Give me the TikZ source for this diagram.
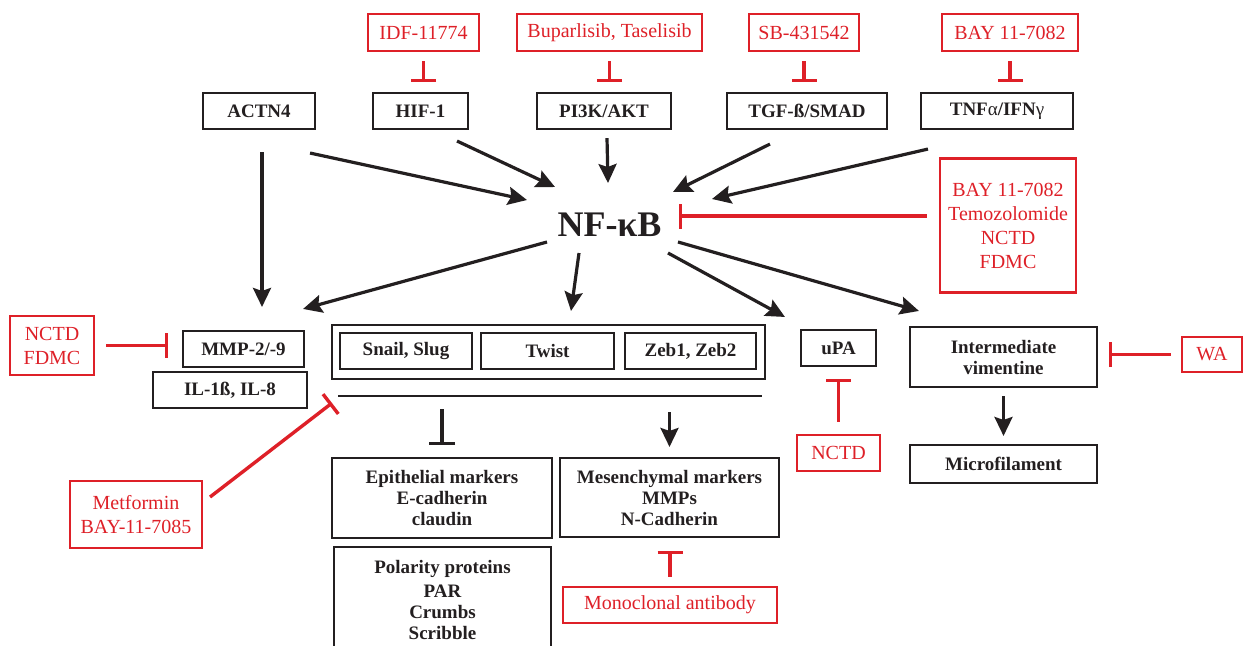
\documentclass[tikz,border=0pt]{standalone}
\usepackage{fontspec}
\setmainfont{Liberation Serif}
\usetikzlibrary{calc}
\usetikzlibrary{arrows.meta}
\definecolor{drugred}{RGB}{222,32,40}
\definecolor{boxgray}{RGB}{35,31,32}
\tikzstyle{blackbox}=[draw=boxgray,line width=2.1pt,inner sep=0pt,align=center,text=boxgray,font=\bfseries\fontsize{19}{21}\selectfont]
\tikzstyle{redbox}=[draw=drugred,line width=2.1pt,inner sep=0pt,align=center,text=drugred,font=\fontsize{20}{24}\selectfont]
\tikzstyle{activate}=[-{Stealth[length=19pt,width=18pt,inset=3pt]},line width=3.2pt,draw=boxgray]
\tikzstyle{inhibit}=[-{Bar[width=25pt]},line width=3.4pt,draw=drugred]
\tikzstyle{blockline}=[-{Bar[width=26pt]},line width=3.2pt,draw=boxgray]

\begin{document}
\begin{tikzpicture}[x=1pt,y=-1pt]
  \useasboundingbox (0,0) rectangle (1244,645);
  % drugs on top
  \node[redbox,minimum width=111,minimum height=37] (idf) at (423.5,32.5) {IDF-11774};
  \node[redbox,minimum width=185,minimum height=37] (bup) at (609.5,32.5) {Buparlisib, Taselisib};
  \node[redbox,minimum width=110,minimum height=37] (sbx) at (804,32.5) {SB-431542};
  \node[redbox,minimum width=136,minimum height=37] (bay) at (1010,32.5) {BAY 11-7082};
  % upstream pathways
  \node[blackbox,minimum width=112,minimum height=36] (actn) at (259,111) {ACTN4};
  \node[blackbox,minimum width=95,minimum height=36] (hif) at (420.5,111) {HIF-1};
  \node[blackbox,minimum width=134,minimum height=36] (pik) at (604,111) {PI3K/AKT};
  \node[blackbox,minimum width=160,minimum height=36] (tgf) at (807,111) {TGF-ß/SMAD};
  \node[blackbox,minimum width=152,minimum height=36] (tnf) at (997,111) {TNF{\mdseries α}/IFN{\mdseries γ}};
  \foreach \drug/\target in {idf/hif,bup/pik,sbx/tgf,bay/tnf} {
    \draw[inhibit,shorten <=9pt,shorten >=10pt] (\drug.south) -- (\drug.south |- \target.north);
  }

  \node[text=boxgray,inner sep=0pt,font=\bfseries\fontsize{36}{40}\selectfont] (nfkb) at (609.5,225) {NF-κB};
  \node[redbox,minimum width=136,minimum height=134] (baym) at (1008,225.5) {BAY 11-7082\\Temozolomide\\NCTD\\FDMC};

  \draw[activate] ($(actn.south east)+(-6,23)$) -- ($(nfkb)+(-82.5,-25)$);
  \draw[activate] ($(hif.south east)+(-12,11)$) -- ($(nfkb)+(-54.5,-38)$);
  \draw[activate] ($(pik.south)+(3,8)$) -- ($(nfkb)+(-1.5,-42)$);
  \draw[activate] ($(tgf.south)+(-37,14)$) -- ($(nfkb)+(63.5,-33)$);
  \draw[activate] ($(tnf.south west)+(8,19)$) -- ($(nfkb)+(102.5,-26)$);
  \draw[inhibit] ($(baym.west)+(-12,-9.5)$) -- ($(nfkb)+(69.5,-9)$);

  % middle row
  \node[redbox,minimum width=84,minimum height=59] (nctdl) at (52,345.5) {NCTD\\FDMC};
  \node[blackbox,minimum width=121,minimum height=36] (mmp) at (243.5,349) {MMP-2/-9};
  \node[blackbox,minimum width=154,minimum height=36] (il) at (230,390) {IL-1ß, IL-8};
  \node[blackbox,minimum width=433,minimum height=54] (emt) at (548.5,352) {};
  \node[blackbox,minimum width=132,minimum height=36] (snail) at (406,351) {Snail, Slug};
  \node[blackbox,minimum width=133,minimum height=36] (twist) at (547.5,351) {Twist};
  \node[blackbox,minimum width=131,minimum height=36] (zeb) at (690.5,351) {Zeb1, Zeb2};
  \node[blackbox,minimum width=75,minimum height=36] (upa) at (838.5,348) {uPA};
  \node[blackbox,minimum width=187,minimum height=60] (inter) at (1003.5,357) {Intermediate\\vimentine};
  \node[redbox,minimum width=60,minimum height=35] (wa) at (1212,354.5) {WA};
  \coordinate (lineL) at (338,396);
  \coordinate (lineR) at (762,396);
  \draw[line width=2.2pt,boxgray] (lineL) -- (lineR);

  \draw[activate] ($(actn.south)+(3,22)$) -- ($(actn.south |- mmp.north)+(3,-23)$);
  \draw[activate] ($(nfkb)+(-62.5,17)$) -- ($(mmp.north east)+(-2,-21)$);
  \draw[activate] ($(nfkb)+(-30.5,28)$) -- ($(emt.north)+(22.5,-13)$);
  \draw[activate] ($(nfkb)+(58.5,28)$) -- ($(upa.north west)+(-15,-12)$);
  \draw[activate] ($(nfkb)+(68.5,17)$) -- ($(inter.north west)+(10,-15)$);
  \draw[inhibit,shorten <=11pt,shorten >=14pt] (nctdl.east) -- (nctdl.east -| mmp.west);
  \draw[inhibit,shorten <=10pt,shorten >=11pt] (wa.west) -- (wa.west -| inter.east);

  % lower row
  \node[redbox,minimum width=132,minimum height=67] (metf) at (136,514.5) {Metformin\\BAY-11-7085};
  \node[blackbox,minimum width=220,minimum height=80] (epi) at (442,498) {Epithelial markers\\E-cadherin\\claudin};
  \node[blackbox,minimum width=219,minimum height=79] (mes) at (669.5,497.5) {Mesenchymal markers\\MMPs\\N-Cadherin};
  \node[blackbox,minimum width=217,minimum height=106] (pol) at (442.5,600) {Polarity proteins\\[3pt]PAR\\Crumbs\\Scribble};
  \node[redbox,minimum width=214,minimum height=36] (mono) at (670,605) {Monoclonal antibody};
  \node[redbox,minimum width=83,minimum height=36] (nctdr) at (838.5,453) {NCTD};
  \node[blackbox,minimum width=187,minimum height=38] (micro) at (1003.5,464) {Microfilament};

  \draw[inhibit] ($(metf.east)+(7,-17.5)$) -- ($(lineL)+(-6,7)$);
  \draw[blockline,shorten <=13pt,shorten >=12pt] (epi.north |- lineL) -- (epi.north);
  \draw[activate,shorten <=16pt,shorten >=10pt] (mes.north |- lineL) -- (mes.north);
  \draw[inhibit,shorten <=9pt,shorten >=13pt] (mono.north) -- (mono.north |- mes.south);
  \draw[inhibit,shorten <=12pt,shorten >=12pt] (nctdr.north) -- (upa.south);
  \draw[activate,shorten <=8pt,shorten >=8pt] (inter.south) -- (micro.north);
\end{tikzpicture}
\end{document}
